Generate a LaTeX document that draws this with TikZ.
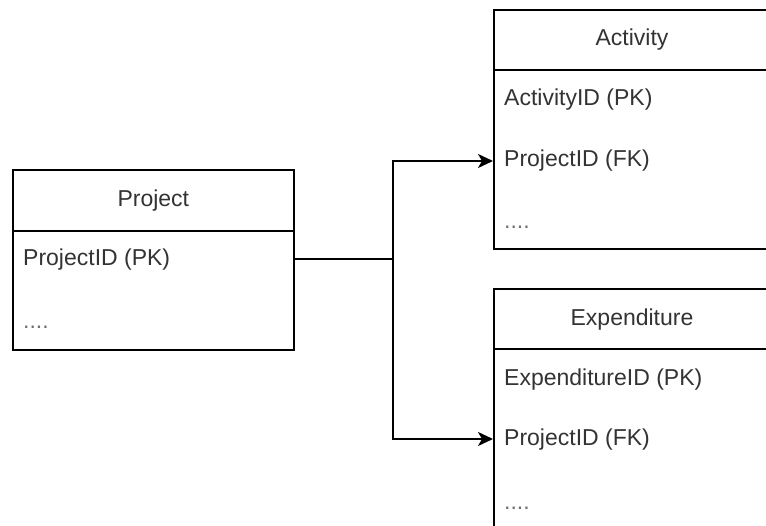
\documentclass[tikz,border=0pt]{standalone}
\usepackage{fontspec}
\setmainfont{Liberation Sans}
\usetikzlibrary{arrows.meta}
\definecolor{txt}{HTML}{333333}
\tikzset{
  box/.style={draw=black, line width=1.6pt, rectangle, anchor=north west, inner sep=0pt},
  headtext/.style={font=\fontsize{23}{27}\selectfont, text=txt, anchor=center, inner sep=0pt},
  rowtext/.style={font=\fontsize{23}{27}\selectfont, text=txt, anchor=west, inner sep=0pt},
  dots/.style={font=\fontsize{23}{27}\selectfont, text=txt!70, anchor=base west, inner sep=0pt},
  link/.style={draw=black, line width=1.6pt},
  fkarrow/.style={link, -{Stealth[length=15pt, width=14pt, inset=4pt]}}
}
\begin{document}
\begin{tikzpicture}[x=1pt,y=-1pt]
\useasboundingbox (0,0) rectangle (766,526);
\clip (0,0) rectangle (766,526);
\fill[white] (0,0) rectangle (766,526);

% Project
\node[box, minimum width=281pt, minimum height=61pt] (phead) at (12,169) {};
\node[box, minimum width=281pt, minimum height=119pt] (pbody) at (12,230) {};
\node[headtext] (ptitle) at (phead.center) {Project};
\node[rowtext] (ppk) at (23,260) {ProjectID (PK)};
\node[dots] (pdots) at (23,329) {....};

% Activity
\node[box, minimum width=282pt, minimum height=60pt] (ahead) at (493,9) {};
\node[box, minimum width=282pt, minimum height=179pt] (abody) at (493,69) {};
\node[headtext] (atitle) at (632,40) {Activity};
\node[rowtext] (apk) at (504,100) {ActivityID (PK)};
\node[rowtext] (afk) at (504,161) {ProjectID (FK)};
\node[dots] (adots) at (504,229) {....};

% Expenditure
\node[box, minimum width=282pt, minimum height=60pt] (ehead) at (493,288) {};
\node[box, minimum width=282pt, minimum height=185pt] (ebody) at (493,348) {};
\node[headtext] (etitle) at (632,320) {Expenditure};
\node[rowtext] (epk) at (504,380) {ExpenditureID (PK)};
\node[rowtext] (efk) at (504,440) {ProjectID (FK)};
\node[dots] (edots) at (504,509) {....};

% connectors
\coordinate (split) at (393,259);
\draw[link] (pbody.east |- split) -- (split);
\draw[fkarrow] (split) |- (abody.west |- 0,161);
\draw[fkarrow] (split) |- (ebody.west |- 0,439);
\end{tikzpicture}
\end{document}
